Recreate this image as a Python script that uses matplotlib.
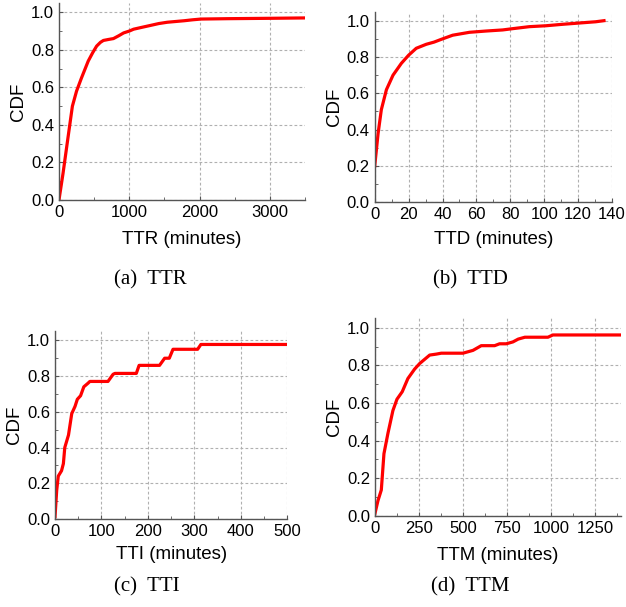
import matplotlib.pyplot as plt
from matplotlib.ticker import AutoMinorLocator, MultipleLocator

# Values
ttr_x = [0, 57, 120, 191, 250, 320, 416, 480, 536, 590, 632, 700, 775, 850, 919,
         1000, 1062, 1180, 1301, 1420, 1541, 1660, 1780, 1900, 2019, 2400, 3000, 3500]
ttr_y = [0.0, 0.14, 0.31, 0.50, 0.58, 0.65, 0.74, 0.785, 0.82, 0.84, 0.85, 0.855, 0.86, 0.875, 0.89,
         0.90, 0.91, 0.92, 0.93, 0.94, 0.947, 0.951, 0.955, 0.96, 0.964, 0.966, 0.968, 0.97]

ttd_x = [0, 2, 3.9, 6.9, 10.8, 15.7, 20, 24.5, 30.4, 35, 39.2, 46, 55.9, 65.7, 75.5,
         81.4, 91.2, 101, 110.8, 120.6, 130.4, 135.3]
ttd_y = [0.2, 0.38, 0.51, 0.62, 0.70, 0.765, 0.81, 0.848, 0.870, 0.882, 0.897, 0.92, 0.936, 0.943, 0.949,
         0.956, 0.967, 0.972, 0.980, 0.987, 0.994, 1.0]

tti_x = [0, 3.6, 7, 14, 18, 21, 29, 36, 43, 48, 55, 62, 71, 75, 114, 125, 129, 175,
         181, 225, 236, 246, 254, 307, 314, 500]
tti_y = [0.013, 0.16, 0.24, 0.27, 0.31, 0.40, 0.47, 0.59, 0.63, 0.67, 0.69, 0.74, 0.76, 0.77, 0.77, 0.81, 0.815, 0.815,
         0.86, 0.86, 0.90, 0.90, 0.95, 0.95, 0.977, 0.977]

ttm_x = [0, 17, 36, 51, 74, 102, 125, 155, 187, 225, 254, 311, 348, 377, 500, 557, 604,
         680, 708, 746, 784, 814, 852, 983, 1011, 1400]
ttm_y = [0.012, 0.08, 0.137, 0.33, 0.44, 0.56, 0.62, 0.66, 0.73, 0.78, 0.81, 0.855, 0.86, 0.865, 0.865, 0.88, 0.905,
         0.905, 0.915, 0.915, 0.925, 0.94, 0.95, 0.95, 0.962, 0.962]

panels = [
    (ttr_x, ttr_y, 'TTR (minutes)', '(a)  TTR', 3500, 1000, [0.0942, 0.6705, 0.393, 0.3247], (0.2404, 0.532), 8),
    (ttd_x, ttd_y, 'TTD (minutes)', '(b)  TTD', 140, 20, [0.5986, 0.6667, 0.379, 0.3142], (0.7508, 0.532), 6.5),
    (tti_x, tti_y, 'TTI (minutes)', '(c)  TTI', 500, 100, [0.0879, 0.145, 0.371, 0.309], (0.2343, 0.025), 5.5),
    (ttm_x, ttm_y, 'TTM (minutes)', '(d)  TTM', 1400, 250, [0.599, 0.1504, 0.3935, 0.325], (0.7508, 0.025), 8),
]

fig = plt.figure(figsize=(6.26, 6.07), dpi=100)
plt.rcParams['font.family'] = ['Liberation Sans', 'DejaVu Sans']

for x, y, xlabel, caption, xmax, xstep, rect, cap_pos, pad in panels:
    ax = fig.add_axes(rect)
    ax.plot(x, y, color='#ff0000', linewidth=2.3, solid_joinstyle='round')
    ax.set_xlim(0, xmax)
    ax.set_ylim(0, 1.05)
    ax.xaxis.set_major_locator(MultipleLocator(xstep))
    ax.yaxis.set_major_locator(MultipleLocator(0.2))
    ax.xaxis.set_minor_locator(AutoMinorLocator(2))
    ax.yaxis.set_minor_locator(AutoMinorLocator(2))
    ax.yaxis.set_major_formatter('{x:.1f}')
    ax.grid(True, which='major', linestyle=(0, (2.5, 2)), color='#b0b0b0', linewidth=0.8)
    ax.set_axisbelow(True)
    for side in ['top', 'right']:
        ax.spines[side].set_visible(False)
    for side in ['left', 'bottom']:
        ax.spines[side].set_color('#555555')
        ax.spines[side].set_linewidth(1.0)
    ax.tick_params(which='both', direction='in', colors='#555555', labelcolor='black', labelsize=12)
    ax.tick_params(which='major', length=3)
    ax.tick_params(which='minor', length=2)
    ax.set_xlabel(xlabel, fontsize=13.5, labelpad=pad)
    ax.set_ylabel('CDF', fontsize=13.5, labelpad=3)
    fig.text(cap_pos[0], cap_pos[1], caption, ha='center', va='baseline',
             fontsize=15, family=['Liberation Serif', 'DejaVu Serif'])

plt.savefig('out.png', dpi=100)
